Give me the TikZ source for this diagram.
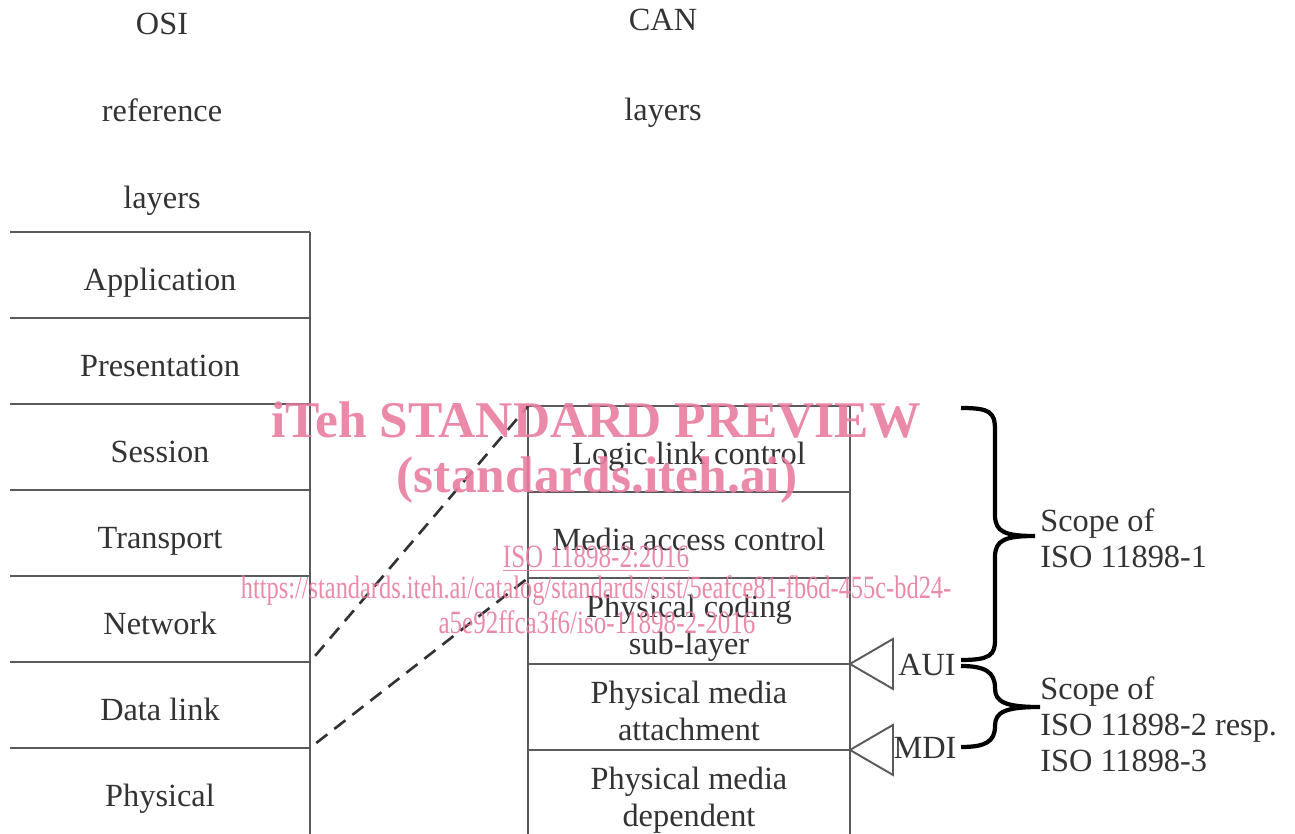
\documentclass[tikz,border=0pt]{standalone}
\usepackage{fontspec}
\setmainfont{Liberation Serif}
\usepackage{graphicx}
\usepackage{tikz}
\usetikzlibrary{positioning,calc}
\definecolor{layerline}{HTML}{5A5A5A}
\definecolor{layertext}{HTML}{333333}
\definecolor{wmpink}{HTML}{E97D9E}

\begin{document}
\begin{tikzpicture}[
    x=0.02cm, y=-0.02cm,
    font=\fontsize{18.4}{21}\selectfont,
    oneline/.style={text height=21.6pt, text depth=4pt},
    twoline/.style={text height=42.6pt, text depth=4pt},
    osilayer/.style={oneline, minimum width=6cm, minimum height=1.72cm, inner sep=0pt,
                     outer sep=0pt, align=center, text=layertext},
    canlayer/.style={draw=layerline, line width=1.2pt, minimum width=6.44cm,
                     minimum height=1.72cm, inner sep=0pt, outer sep=0pt,
                     align=center, text=layertext},
    sepline/.style={draw=layerline, line width=1.1pt},
    mapline/.style={draw=layertext, line width=1.5pt, dash pattern=on 8pt off 5pt,
                    shorten <=0.16cm},
    iface/.style={draw=layerline, line width=1.1pt},
    scopebrace/.style={draw=black, line width=2.4pt},
    title/.style={align=center, text=layertext},
    scopetext/.style={align=left, text=layertext, inner sep=0pt, anchor=west,
                      font=\fontsize{18.4}{20.6}\selectfont},
    watermark/.style={text=wmpink, opacity=0.9, inner sep=0pt}
]
  \useasboundingbox (0,0) rectangle (1295,834);

  % Column titles
  \node[title, font=\fontsize{18.4}{49.5}\selectfont] (osititle) at (162,114) {OSI\\reference\\layers};
  \node[title, font=\fontsize{18.4}{51.2}\selectfont] (cantitle) at (663,68) {CAN\\layers};

  % OSI reference layers
  \node[osilayer] (app) at (160,275) {Application};
  \node[osilayer, below=0pt of app] (pres) {Presentation};
  \node[osilayer, below=0pt of pres] (sess) {Session};
  \node[osilayer, below=0pt of sess] (trans) {Transport};
  \node[osilayer, below=0pt of trans] (net) {Network};
  \node[osilayer, below=0pt of net] (dlink) {Data link};
  \node[osilayer, below=0pt of dlink] (phys) {Physical};
  \foreach \n in {app,pres,sess,trans,net,dlink,phys}
    \draw[sepline] (\n.north west) -- (\n.north east);
  \draw[sepline] (app.north east) -- (phys.south east);

  % CAN layers
  \node[canlayer, oneline] (llc) at (689,449) {Logic link control};
  \node[canlayer, oneline, below=0pt of llc] (mac) {Media access control};
  \node[canlayer, twoline, below=0pt of mac] (pcs) {Physical coding\\sub-layer};
  \node[canlayer, twoline, below=0pt of pcs] (pma) {Physical media\\attachment};
  \node[canlayer, twoline, below=0pt of pma] (pmd) {Physical media\\dependent};

  % Mapping of data link onto CAN
  \draw[mapline] (dlink.north east) -- (llc.north west);
  \draw[mapline] (phys.north east) -- (pcs.north west);

  % Interfaces
  \draw[iface] (pcs.south east) -- ++(43,-25) -- ++(0,50) -- cycle;
  \draw[iface] (pma.south east) -- ++(43,-25) -- ++(0,50) -- cycle;
  \node[text=layertext] (aui) at (927,665) {AUI};
  \node[text=layertext] (mdi) at (925,748) {MDI};

  % Scope braces
  \draw[scopebrace] (961,408) .. controls (990,408) and (995,412) .. (995,430)
    -- (995,515) .. controls (995,532) and (1005,536) .. (1035,536)
    .. controls (1005,536) and (995,540) .. (995,557)
    -- (995,640) .. controls (995,655) and (990,660) .. (961,660);
  \draw[scopebrace] (961,666) .. controls (985,666) and (995,672) .. (995,688)
    .. controls (995,702) and (1005,707) .. (1040,707)
    .. controls (1005,707) and (995,712) .. (995,726)
    .. controls (995,742) and (985,747) .. (961,747);
  \node[scopetext] (scope1) at (1040,538) {Scope of\\ISO 11898-1};
  \node[scopetext] (scope2) at (1040,724) {Scope of\\ISO 11898-2 resp.\\ISO 11898-3};

  % Watermark
  \node[watermark, font=\fontsize{29.3}{30}\selectfont\bfseries] (wmhead) at (596,420) {iTeh STANDARD PREVIEW};
  \node[watermark, font=\fontsize{29.3}{30}\selectfont\bfseries] (wmsite) at (597,480) {(standards.iteh.ai)};
  \node[watermark, font=\fontsize{18.5}{20}\selectfont] (wmdoc) at (596,559) {\scalebox{0.77}[1]{\underline{ISO 11898-2:2016}}};
  \node[watermark, font=\fontsize{18.5}{20}\selectfont] (wmurl) at (596,591) {\scalebox{0.751}[1]{https://standards.iteh.ai/catalog/standards/sist/5eafce81-fb6d-455c-bd24-}};
  \node[watermark, font=\fontsize{18.5}{20}\selectfont] (wmurltail) at (597,622) {\scalebox{0.77}[1]{a5e92ffca3f6/iso-11898-2-2016}};
\end{tikzpicture}
\end{document}
